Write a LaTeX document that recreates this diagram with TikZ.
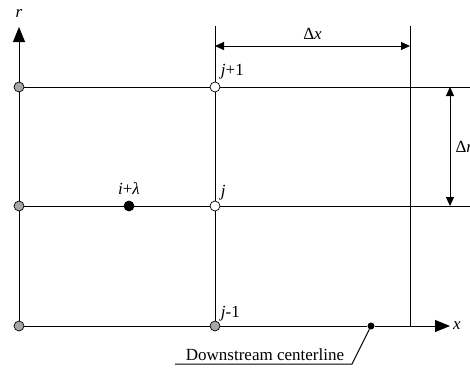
\documentclass[tikz,border=0pt]{standalone}
\usepackage{fontspec}
\setmainfont{Liberation Serif}
\usepackage{tikz}
\usetikzlibrary{positioning, arrows.meta}

\begin{document}
\begin{tikzpicture}[
  x=1pt, y=-1pt,
  every node/.style={font=\fontsize{17}{20}\selectfont},
  line/.style={draw=black, line width=1pt},
  gpt/.style={
    circle, draw=black, line width=0.7pt,
    fill=black!35, minimum size=10pt, inner sep=0pt,
  },
  opt/.style={gpt, fill=white},
  bpt/.style={gpt, fill=black},
  lbl/.style={inner sep=0pt},
  axis/.style={line, -{Triangle[length=15pt,width=12pt]}},
  dim/.style={line, {Triangle[length=9pt,width=8pt]}-{Triangle[length=9pt,width=8pt]}},
]
  \useasboundingbox (0,0) rectangle (470,367);

  % grid points
  \node[gpt] (g1) at (19,87)  {};
  \node[gpt] (g2) at (19,206) {};
  \node[gpt] (g3) at (19,326) {};
  \node[opt] (jp) at (215,87)  {};
  \node[opt] (jc) at (215,206) {};
  \node[gpt] (jm) at (215,326) {};
  \node[bpt] (il) at (129,206) {};
  \node[circle, fill=black, inner sep=0pt, minimum size=7pt] (cl) at (371,326) {};

  \coordinate (rtip) at (19,27);
  \coordinate (xtip) at (450,326);
  \coordinate (c1) at (215,26);
  \coordinate (c2) at (410,26);
  \coordinate (c3) at (410,326);
  \coordinate (e1) at (470,87);
  \coordinate (e2) at (470,206);
  \coordinate (dx1) at (215,46);
  \coordinate (dx2) at (410,46);
  \coordinate (dr1) at (450,87);
  \coordinate (dr2) at (450,206);
  \coordinate (u1) at (175,364);
  \coordinate (u2) at (352,364);

  % grid lines
  \draw[axis] (g3) -- (g2) -- (g1) -- (rtip);
  \draw[axis] (g3) -- (jm) -- (cl) -- (xtip);
  \draw[line] (g1) -- (jp) -- (e1);
  \draw[line] (g2) -- (il) -- (jc) -- (e2);
  \draw[line] (c1) -- (jp) -- (jc) -- (jm);
  \draw[line] (c2) -- (c3);

  % spacings
  \draw[dim] (dx1) -- node[lbl, above=6pt] (dxl) {Δ\textit{x}} (dx2);
  \draw[dim] (dr1) -- node[lbl, right=5pt] (drl) {Δ\textit{r}} (dr2);

  % labels
  \node[lbl, above=9pt of rtip] (rl) {\textit{r}};
  \node[lbl, right=3pt of xtip] (xl) {\textit{x}};
  \node[lbl, above right=4pt and 2pt of jp] (jpl) {\textit{j}+1};
  \node[lbl, above right=2pt and 2pt of jc] (jcl) {\textit{j}};
  \node[lbl, above right=0.5pt and 2pt of jm] (jml) {\textit{j}-1};
  \node[lbl, above=6pt of il] (ill) {\textit{i}+\textit{λ}};

  % centerline callout
  \node[lbl, anchor=base] (cll) at (265,360) {Downstream centerline};
  \draw[line] (u1) -- (u2) -- (cl);
\end{tikzpicture}
\end{document}
